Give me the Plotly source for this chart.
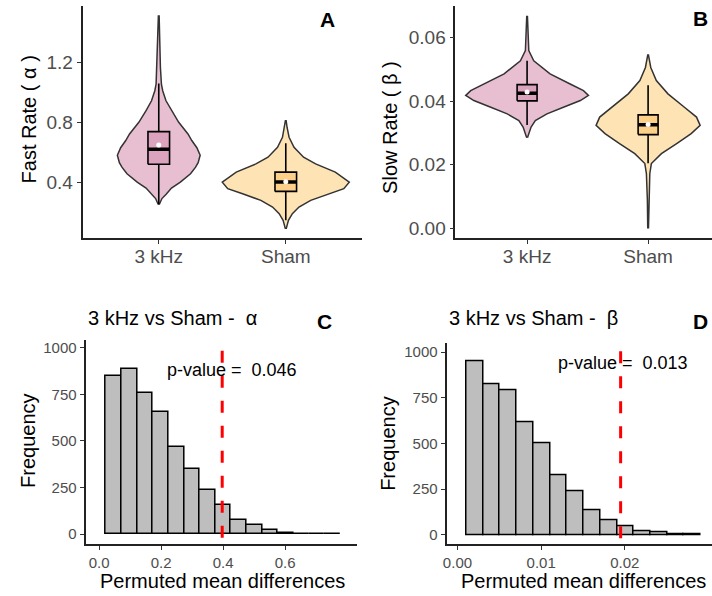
import plotly.graph_objects as go

FONT = "Liberation Sans, Arial, sans-serif"

# ---------------- data ----------------
groups = ["3 kHz", "Sham"]

# Panel A (Fast Rate alpha) violin outlines: value levels and half-widths (category units)
a_khz_val = [0.25, 0.29, 0.32, 0.36, 0.40, 0.456, 0.50, 0.53, 0.58, 0.63, 0.678, 0.722, 0.80, 0.878, 0.944, 1.011, 1.056, 1.167, 1.278, 1.389, 1.511]
a_khz_hw  = [0.004, 0.025, 0.06, 0.10, 0.17, 0.25, 0.29, 0.31, 0.326, 0.30, 0.26, 0.23, 0.157, 0.10, 0.057, 0.031, 0.021, 0.013, 0.010, 0.008, 0.003]
a_sham_val = [0.087, 0.144, 0.189, 0.233, 0.278, 0.322, 0.356, 0.40, 0.467, 0.522, 0.567, 0.633, 0.70, 0.767, 0.811]
a_sham_hw  = [0.003, 0.021, 0.052, 0.104, 0.196, 0.34, 0.457, 0.50, 0.39, 0.235, 0.14, 0.065, 0.026, 0.010, 0.003]

# Panel B (Slow Rate beta) violin outlines
b_khz_val = [0.0285, 0.0319, 0.0339, 0.0360, 0.0381, 0.0402, 0.0418, 0.0433, 0.0454, 0.0486, 0.0527, 0.0559, 0.0666]
b_khz_hw  = [0.003, 0.033, 0.068, 0.164, 0.30, 0.44, 0.507, 0.466, 0.356, 0.19, 0.055, 0.014, 0.003]
b_sham_val = [0.0, 0.0089, 0.0172, 0.0204, 0.0235, 0.0266, 0.0298, 0.0324, 0.0350, 0.0381, 0.0423, 0.0465, 0.0506, 0.0545]
b_sham_hw  = [0.003, 0.006, 0.014, 0.027, 0.11, 0.233, 0.356, 0.43, 0.40, 0.30, 0.164, 0.068, 0.022, 0.003]

# Box statistics [3 kHz, Sham]
a_q1 = [0.52, 0.338];   a_med = [0.62, 0.40];   a_q3 = [0.738, 0.467]
a_lo = [0.25, 0.145];   a_hi = [1.06, 0.66];    a_mean = [0.649, 0.402]
b_q1 = [0.0401, 0.0295]; b_med = [0.0425, 0.0326]; b_q3 = [0.0452, 0.0357]
b_lo = [0.0325, 0.0205]; b_hi = [0.0527, 0.045];  b_mean = [0.0429, 0.0327]

# Panel C histogram (alpha permutation)
c_start = 0.0215
c_binw = 0.0505
c_counts = [851, 885, 760, 655, 466, 349, 235, 157, 75, 52, 23, 9, 2, 1, 1]
c_obs = 0.397
c_line_top = 983
c_pval = "0.046"

# Panel D histogram (beta permutation)
d_start = 0.00107
d_binw = 0.002
d_counts = [948, 826, 790, 617, 502, 328, 237, 137, 79, 48, 19, 13, 6, 2]
d_obs = 0.0195
d_line_top = 1004
d_pval = "0.013"

a_ticks = [0.4, 0.8, 1.2];            a_ticktext = ["0.4", "0.8", "1.2"]
b_ticks = [0.0, 0.02, 0.04, 0.06];     b_ticktext = ["0.00", "0.02", "0.04", "0.06"]
c_xticks = [0.0, 0.2, 0.4, 0.6];       c_xticktext = ["0.0", "0.2", "0.4", "0.6"]
d_xticks = [0.0, 0.01, 0.02];          d_xticktext = ["0.00", "0.01", "0.02"]
freq_ticks = [0, 250, 500, 750, 1000]; freq_ticktext = ["0", "250", "500", "750", "1000"]

violin_fill = ["#E8BFD1", "#FEE4B4"]
box_fill = ["#DCA3BF", "#FDD08A"]

# ---------------- figure ----------------
fig = go.Figure()


def add_violin(vals, hws, center, fill, xa, ya):
    xs = [center + h for h in hws] + [center - h for h in reversed(hws)]
    ys = list(vals) + list(reversed(vals))
    fig.add_trace(go.Scatter(x=xs, y=ys, mode="lines", fill="toself", fillcolor=fill,
                             line=dict(color="#333333", width=1.5), hoverinfo="skip",
                             xaxis=xa, yaxis=ya))


def add_box(i, q1, med, q3, lo, hi, mean, xa, ya, bw):
    c = i + 1
    l, r = c - bw / 2, c + bw / 2
    # whiskers
    fig.add_trace(go.Scatter(x=[c, c, None, c, c], y=[lo[i], q1[i], None, q3[i], hi[i]],
                             mode="lines", line=dict(color="black", width=1.6),
                             xaxis=xa, yaxis=ya))
    # box
    fig.add_trace(go.Scatter(x=[l, r, r, l, l], y=[q1[i], q1[i], q3[i], q3[i], q1[i]],
                             mode="lines", fill="toself", fillcolor=box_fill[i],
                             line=dict(color="black", width=1.6), xaxis=xa, yaxis=ya))
    # median
    fig.add_trace(go.Scatter(x=[l, r], y=[med[i], med[i]], mode="lines",
                             line=dict(color="black", width=3.5), xaxis=xa, yaxis=ya))
    # mean
    fig.add_trace(go.Scatter(x=[c], y=[mean[i]], mode="markers",
                             marker=dict(color="white", size=5), xaxis=xa, yaxis=ya))


# Panel A
add_violin(a_khz_val, a_khz_hw, 1, violin_fill[0], "x", "y")
add_violin(a_sham_val, a_sham_hw, 2, violin_fill[1], "x", "y")
for i in range(2):
    add_box(i, a_q1, a_med, a_q3, a_lo, a_hi, a_mean, "x", "y", 0.17)

# Panel B
add_violin(b_khz_val, b_khz_hw, 1, violin_fill[0], "x2", "y2")
add_violin(b_sham_val, b_sham_hw, 2, violin_fill[1], "x2", "y2")
for i in range(2):
    add_box(i, b_q1, b_med, b_q3, b_lo, b_hi, b_mean, "x2", "y2", 0.165)

# Panel C
c_centers = [c_start + c_binw * (k + 0.5) for k in range(len(c_counts))]
fig.add_trace(go.Bar(x=c_centers, y=c_counts, width=c_binw, marker=dict(color="#BEBEBE",
                     line=dict(color="black", width=1.5)), xaxis="x3", yaxis="y3"))
# Panel D
d_centers = [d_start + d_binw * (k + 0.5) for k in range(len(d_counts))]
fig.add_trace(go.Bar(x=d_centers, y=d_counts, width=d_binw, marker=dict(color="#BEBEBE",
                     line=dict(color="black", width=1.5)), xaxis="x4", yaxis="y4"))

c_yr = [-53.4, 1041.7]
d_yr = [-52.3, 1049]

fig.add_shape(type="line", xref="x3", yref="y3", x0=c_obs, x1=c_obs, y0=c_line_top, y1=c_yr[0],
              line=dict(color="#FF0000", width=3, dash="12px,13px"))
fig.add_shape(type="line", xref="x4", yref="y4", x0=d_obs, x1=d_obs, y0=d_line_top, y1=d_yr[0],
              line=dict(color="#FF0000", width=3, dash="12px,13px"))

axis_common = dict(showgrid=False, zeroline=False, showline=True, linecolor="#222222",
                   linewidth=1.8, ticks="outside", ticklen=4, tickwidth=1.4, tickcolor="#333333")
top_tick = dict(size=19, color="#4D4D4D", family=FONT)
bot_tick = dict(size=15, color="#4D4D4D", family=FONT)

fig.update_layout(
    width=712, height=596, margin=dict(l=0, r=0, t=0, b=0),
    paper_bgcolor="white", plot_bgcolor="white", showlegend=False,
    font=dict(family=FONT),
    xaxis=dict(domain=[79 / 712, 360 / 712], range=[0.4, 2.6], anchor="y",
               tickvals=[1, 2], ticktext=groups, tickfont=top_tick, ticklabelstandoff=-4,
               **axis_common),
    yaxis=dict(domain=[0.6007, 0.9916], range=[0.025, 1.578], anchor="x",
               tickvals=a_ticks, ticktext=a_ticktext, tickfont=top_tick, **axis_common),
    xaxis2=dict(domain=[454 / 712, 1.0], range=[0.408, 2.528], anchor="y2",
                tickvals=[1, 2], ticktext=groups, tickfont=top_tick, ticklabelstandoff=-4,
                **axis_common),
    yaxis2=dict(domain=[0.6007, 0.9916], range=[-0.00304, 0.0699], anchor="x2",
                tickvals=b_ticks, ticktext=b_ticktext, tickfont=top_tick, **axis_common),
    xaxis3=dict(domain=[82 / 712, 355 / 712], range=[-0.044, 0.832], anchor="y3",
                tickvals=c_xticks, ticktext=c_xticktext, tickfont=bot_tick, **axis_common),
    yaxis3=dict(domain=[0.0856, 0.4295], range=c_yr, anchor="x3",
                tickvals=freq_ticks, ticktext=freq_ticktext, tickfont=bot_tick, **axis_common),
    xaxis4=dict(domain=[445 / 712, 1.0], range=[-0.00131, 0.03042], anchor="y4",
                tickvals=d_xticks, ticktext=d_xticktext, tickfont=bot_tick, **axis_common),
    yaxis4=dict(domain=[0.0851, 0.424], range=d_yr, anchor="x4",
                tickvals=freq_ticks, ticktext=freq_ticktext, tickfont=bot_tick, **axis_common),
    bargap=0,
)


def px_x(p):
    return p / 712


def px_y(p):
    return (596 - p) / 596


ann = []
title_font = dict(size=20, color="black", family=FONT)
label_font = dict(size=21, color="black", family=FONT)
# axis titles
ann.append(dict(text="Fast Rate ( α )", x=px_x(25), y=px_y(119), textangle=-90, font=title_font))
ann.append(dict(text="Slow Rate ( β )", x=px_x(387.5), y=px_y(127), textangle=-90, font=title_font))
ann.append(dict(text="Frequency", x=px_x(24), y=px_y(440.5), textangle=-90, font=title_font))
ann.append(dict(text="Frequency", x=px_x(386), y=px_y(443.5), textangle=-90, font=title_font))
ann.append(dict(text="Permuted mean differences", x=px_x(220), y=px_y(582), font=title_font))
ann.append(dict(text="Permuted mean differences", x=px_x(582.7), y=px_y(582), font=title_font))
# panel titles
ann.append(dict(text="3 kHz vs Sham - \u00a0α", x=px_x(82.7), y=px_y(318), xanchor="left", font=title_font))
ann.append(dict(text="3 kHz vs Sham - \u00a0β", x=px_x(445.3), y=px_y(318), xanchor="left", font=title_font))
# panel letters
ann.append(dict(text="<b>A</b>", x=px_x(325), y=px_y(19), font=label_font))
ann.append(dict(text="<b>B</b>", x=px_x(710), y=px_y(18), xanchor="right", font=label_font))
ann.append(dict(text="<b>C</b>", x=px_x(322.5), y=px_y(322), font=label_font))
ann.append(dict(text="<b>D</b>", x=px_x(710), y=px_y(322), xanchor="right", font=label_font))
for a in ann:
    a.update(xref="paper", yref="paper", showarrow=False)
    if "xanchor" not in a:
        a["xanchor"] = "center"
    a["yanchor"] = "middle"
# p-value texts
pfont = dict(size=18, color="black", family=FONT)
ann.append(dict(text="p-value = \u00a0" + c_pval, x=0.428, y=881, xref="x3", yref="y3",
                showarrow=False, font=pfont))
ann.append(dict(text="p-value = \u00a0" + d_pval, x=0.01979, y=941, xref="x4", yref="y4",
                showarrow=False, font=pfont))
fig.update_layout(annotations=ann)

fig.write_html("out.html")
